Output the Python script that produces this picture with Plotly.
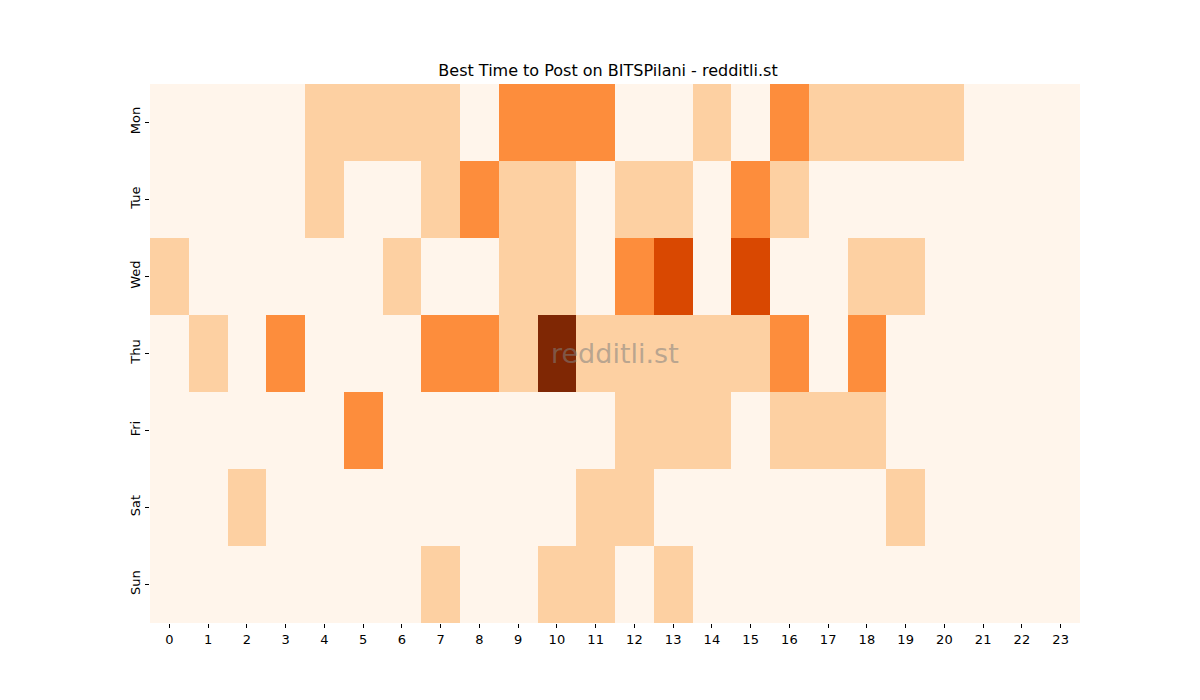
import plotly.graph_objects as go
import plotly.express as px

# posting activity levels per weekday / hour (0 = none .. 4 = most)
days = ["Mon", "Tue", "Wed", "Thu", "Fri", "Sat", "Sun"]
hours = list(range(24))

mon = [0, 0, 0, 0, 1, 1, 1, 1, 0, 2, 2, 2, 0, 0, 1, 0, 2, 1, 1, 1, 1, 0, 0, 0]
tue = [0, 0, 0, 0, 1, 0, 0, 1, 2, 1, 1, 0, 1, 1, 0, 2, 1, 0, 0, 0, 0, 0, 0, 0]
wed = [1, 0, 0, 0, 0, 0, 1, 0, 0, 1, 1, 0, 2, 3, 0, 3, 0, 0, 1, 1, 0, 0, 0, 0]
thu = [0, 1, 0, 2, 0, 0, 0, 2, 2, 1, 4, 1, 1, 1, 1, 1, 2, 0, 2, 0, 0, 0, 0, 0]
fri = [0, 0, 0, 0, 0, 2, 0, 0, 0, 0, 0, 0, 1, 1, 1, 0, 1, 1, 1, 0, 0, 0, 0, 0]
sat = [0, 0, 1, 0, 0, 0, 0, 0, 0, 0, 0, 1, 1, 0, 0, 0, 0, 0, 0, 1, 0, 0, 0, 0]
sun = [0, 0, 0, 0, 0, 0, 0, 1, 0, 0, 1, 1, 0, 1, 0, 0, 0, 0, 0, 0, 0, 0, 0, 0]

z = [mon, tue, wed, thu, fri, sat, sun]

fig = go.Figure(go.Heatmap(
    z=z, x=hours, y=days,
    colorscale=px.colors.sequential.Oranges,
    zmin=0, zmax=4,
    showscale=False,
    xgap=0, ygap=0,
))

# page body adds 8px, so margins are shifted to land the plot where matplotlib put it
fig.update_layout(
    width=1200, height=700,
    paper_bgcolor="white", plot_bgcolor="white",
    margin={"l": 142, "r": 128, "t": 76, "b": 85},
    font=dict(family="DejaVu Sans", size=13, color="black"),
    title=dict(text="Best Time to Post on BITSPilani - redditli.st",
               x=0.5, xanchor="center", y=1 - 62 / 700, yanchor="middle",
               font=dict(size=16)),
    annotations=[dict(text="redditli.st", x=0.5, y=0.5, xref="paper", yref="paper",
                      showarrow=False,
                      font=dict(size=27, color="rgba(128,128,128,0.55)"))],
)
fig.update_xaxes(tickmode="array", tickvals=hours, ticktext=[str(h) for h in hours],
                 ticks="outside", ticklen=4, tickcolor="black", showgrid=False,
                 zeroline=False, showline=False)
fig.update_yaxes(autorange="reversed", tickangle=-90, ticks="outside", ticklen=4,
                 tickcolor="black", showgrid=False, zeroline=False, showline=False)

fig.write_html("out.html")
